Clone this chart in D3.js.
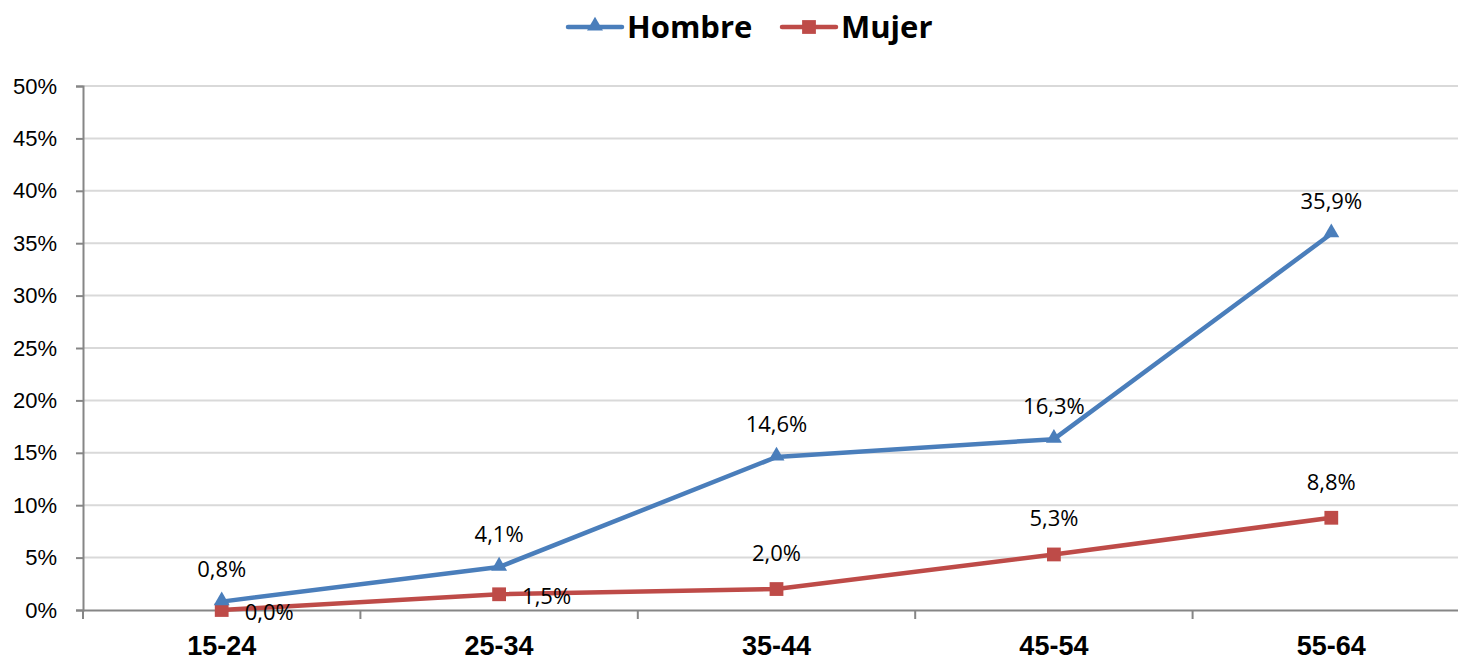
<!DOCTYPE html>
<html>
<head>
<meta charset="utf-8">
<script src="https://cdn.jsdelivr.net/npm/d3@7"></script>
<style>
  body { margin: 0; background: #fff; }
  svg { display: block; font-family: "Open Sans", Lato, sans-serif; }
</style>
</head>
<body>
<div id="chart"></div>
<script>
const categories = ["15-24", "25-34", "35-44", "45-54", "55-64"];
const hombre = [0.008, 0.041, 0.146, 0.163, 0.359];
const mujer = [0.0, 0.015, 0.02, 0.053, 0.088];
const yTicks = [0, 0.05, 0.1, 0.15, 0.2, 0.25, 0.3, 0.35, 0.4, 0.45, 0.5];

const blue = "#4a7ebb";
const red = "#be4b48";

const width = 1458;
const height = 662;
const margin = { top: 86, right: -12, bottom: 52, left: 83 };

const svg = d3
  .select("#chart")
  .append("svg")
  .attr("width", width)
  .attr("height", height);

const xScale = d3
  .scaleBand()
  .domain(categories)
  .range([margin.left, width - margin.right])
  .padding(0);

const yScale = d3
  .scaleLinear()
  .domain([0, 0.5])
  .range([height - margin.bottom, margin.top]);

const fmt = (v) => d3.format(".1f")(v * 100).replace(".", ",") + "%";
const cx = (d) => xScale(d) + xScale.bandwidth() / 2;

// gridlines
svg
  .append("g")
  .selectAll("line")
  .data(yTicks.slice(1))
  .enter()
  .append("line")
  .attr("x1", margin.left)
  .attr("x2", width)
  .attr("y1", (d) => yScale(d))
  .attr("y2", (d) => yScale(d))
  .attr("stroke", "#d9d9d9")
  .attr("stroke-width", 2);

// y axis
const yAxis = svg
  .append("g")
  .attr("transform", `translate(${margin.left},0)`)
  .call(
    d3
      .axisLeft(yScale)
      .tickValues(yTicks)
      .tickSize(7)
      .tickPadding(19)
      .tickFormat((d) => Math.round(d * 100) + "%")
  );
yAxis.select(".domain").attr("stroke", "#868686").attr("stroke-width", 2);
yAxis.selectAll(".tick line").attr("stroke", "#868686").attr("stroke-width", 2);
yAxis
  .selectAll(".tick text")
  .attr("fill", "#000")
  .style("font-size", "22px");

// x axis
const xAxis = svg
  .append("g")
  .attr("transform", `translate(0,${yScale(0)})`)
  .call(d3.axisBottom(xScale).tickSize(0).tickPadding(26));
xAxis.select(".domain").attr("stroke", "#868686").attr("stroke-width", 2);
xAxis
  .selectAll(".tick text")
  .attr("fill", "#000")
  .style("font-size", "27px")
  .style("font-weight", "bold");
// boundary ticks between categories
xAxis
  .selectAll(".bound")
  .data(categories)
  .enter()
  .append("line")
  .attr("x1", (d) => xScale(d))
  .attr("x2", (d) => xScale(d))
  .attr("y1", 0)
  .attr("y2", 9)
  .attr("stroke", "#868686")
  .attr("stroke-width", 2);

// lines
const line = d3
  .line()
  .x((d, i) => cx(categories[i]))
  .y((d) => yScale(d));

svg
  .append("path")
  .datum(mujer)
  .attr("d", line)
  .attr("fill", "none")
  .attr("stroke", red)
  .attr("stroke-width", 4.5)
  .attr("stroke-linejoin", "round");

svg
  .append("path")
  .datum(hombre)
  .attr("d", line)
  .attr("fill", "none")
  .attr("stroke", blue)
  .attr("stroke-width", 4.5)
  .attr("stroke-linejoin", "round");

// markers
const tri = d3.symbol().type(d3.symbolTriangle).size(110);
const sq = d3.symbol().type(d3.symbolSquare).size(190);

svg
  .append("g")
  .selectAll("path")
  .data(mujer)
  .enter()
  .append("path")
  .attr("d", sq)
  .attr("fill", red)
  .attr("transform", (d, i) => `translate(${cx(categories[i])},${yScale(d)})`);

svg
  .append("g")
  .selectAll("path")
  .data(hombre)
  .enter()
  .append("path")
  .attr("d", tri)
  .attr("fill", blue)
  .attr("transform", (d, i) => `translate(${cx(categories[i])},${yScale(d) - 1})`);

// data labels
svg
  .append("g")
  .selectAll("text")
  .data(hombre)
  .enter()
  .append("text")
  .attr("x", (d, i) => cx(categories[i]))
  .attr("y", (d) => yScale(d) - 25)
  .attr("text-anchor", "middle")
  .style("font-size", "22px")
  .text(fmt);

svg
  .append("g")
  .selectAll("text")
  .data(mujer)
  .enter()
  .append("text")
  .attr("x", (d, i) => cx(categories[i]) + (i < 2 ? 23 : 0))
  .attr("y", (d, i) => yScale(d) + (i < 2 ? 2 : -28))
  .attr("text-anchor", (d, i) => (i < 2 ? "start" : "middle"))
  .attr("dy", (d, i) => (i < 2 ? "0.35em" : 0))
  .style("font-size", "22px")
  .text(fmt);

// legend
const legend = svg.append("g").attr("transform", "translate(0,27)");
const items = [
  { name: "Hombre", color: blue, sym: tri, x: 568 },
  { name: "Mujer", color: red, sym: sq, x: 782 },
];
items.forEach((it) => {
  legend
    .append("line")
    .attr("x1", it.x)
    .attr("x2", it.x + 54)
    .attr("y1", 0)
    .attr("y2", 0)
    .attr("stroke", it.color)
    .attr("stroke-width", 4.5)
    .attr("stroke-linecap", "round");
  legend
    .append("path")
    .attr("d", it.sym)
    .attr("fill", it.color)
    .attr("transform", `translate(${it.x + 27},${it.sym === tri ? -1 : 0})`);
  legend
    .append("text")
    .attr("x", it.x + 59)
    .attr("y", 0)
    .attr("dy", "0.35em")
    .style("font-size", "31px")
    .style("font-weight", "bold")
    .text(it.name);
});
</script>
</body>
</html>
